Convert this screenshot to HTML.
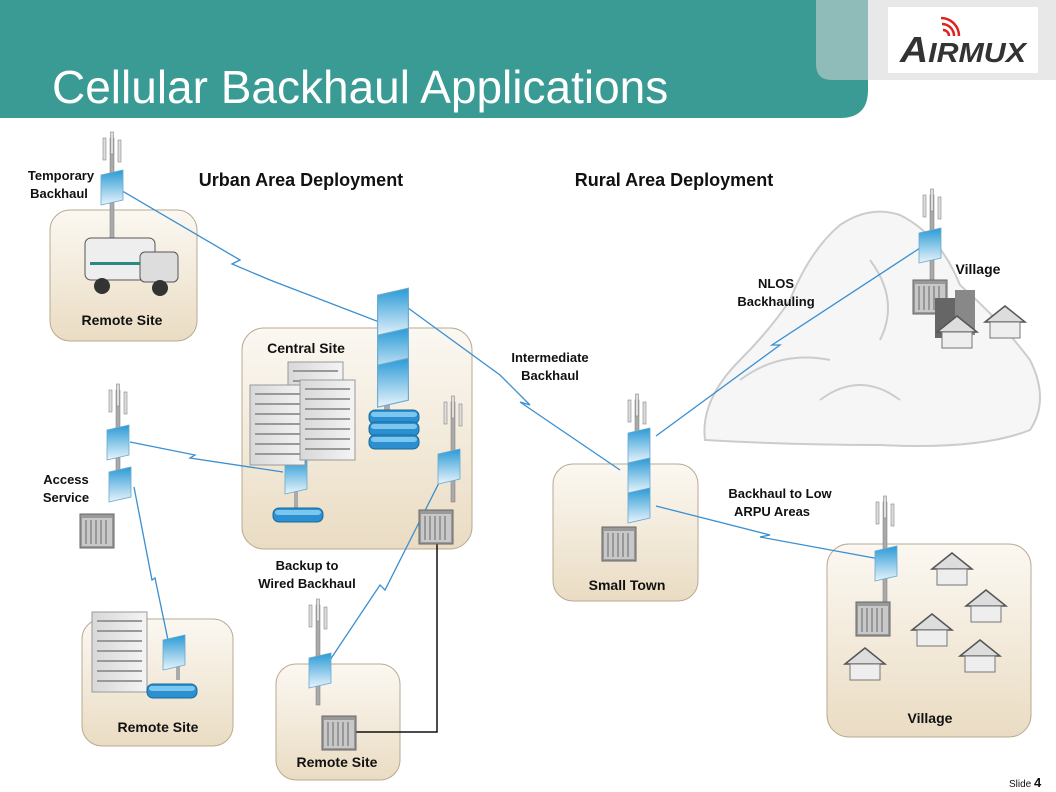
<!DOCTYPE html>
<html><head><meta charset="utf-8"><style>
body{margin:0;background:#fff}
svg{display:block}
text{font-family:"Liberation Sans",Arial,sans-serif;font-weight:bold;fill:#111}
</style></head><body>
<svg width="1056" height="792" viewBox="0 0 1056 792" xmlns="http://www.w3.org/2000/svg">
<defs>
<linearGradient id="box" x1="0" y1="0" x2="0" y2="1"><stop offset="0" stop-color="#fbf8f2"/><stop offset="1" stop-color="#eadcc3"/></linearGradient>
<linearGradient id="pan" x1="0" y1="0" x2="0" y2="1"><stop offset="0" stop-color="#2a9ad6"/><stop offset="1" stop-color="#e8f4fb"/></linearGradient>
<linearGradient id="bld" x1="0" y1="0" x2="1" y2="0"><stop offset="0" stop-color="#d8d8d8"/><stop offset="1" stop-color="#f4f4f4"/></linearGradient>
<g id="tower"><rect x="-2" y="0" width="4" height="100" fill="#aaa" stroke="#777" stroke-width="0.5"/>
<rect x="-9" y="0" width="3" height="22" fill="#ddd" stroke="#888" stroke-width="0.6"/><rect x="-1.5" y="-6" width="3" height="22" fill="#ddd" stroke="#888" stroke-width="0.6"/><rect x="6" y="2" width="3" height="22" fill="#ddd" stroke="#888" stroke-width="0.6"/></g>
<g id="panel"><polygon points="-11,-12 11,-17 11,13 -11,18" fill="url(#pan)" stroke="#6aa8cc" stroke-width="0.8"/></g>
<g id="cab"><rect x="0" y="0" width="34" height="34" fill="#999" stroke="#666"/><rect x="2" y="4" width="30" height="28" fill="#c8c8c8"/><g stroke="#888" stroke-width="1.5"><line x1="6" y1="6" x2="6" y2="30"/><line x1="11" y1="6" x2="11" y2="30"/><line x1="16" y1="6" x2="16" y2="30"/><line x1="21" y1="6" x2="21" y2="30"/><line x1="26" y1="6" x2="26" y2="30"/></g></g>
<g id="house"><polygon points="0,16 20,0 40,16" fill="#ddd" stroke="#555" stroke-width="1.5"/><rect x="5" y="16" width="30" height="16" fill="#eee" stroke="#777"/></g>
<g id="bigb"><rect x="0" y="0" width="55" height="80" fill="url(#bld)" stroke="#999"/><g fill="#999"><rect x="5" y="8" width="45" height="2"/><rect x="5" y="18" width="45" height="2"/><rect x="5" y="28" width="45" height="2"/><rect x="5" y="38" width="45" height="2"/><rect x="5" y="48" width="45" height="2"/><rect x="5" y="58" width="45" height="2"/><rect x="5" y="68" width="45" height="2"/></g></g>
<g id="modem"><rect x="-25" y="0" width="50" height="14" rx="6" fill="#2b8fd0" stroke="#1a6a9a"/><rect x="-23" y="2" width="46" height="5" rx="3" fill="#7cc7ef"/></g>
</defs>

<!-- header -->
<rect x="0" y="0" width="1056" height="80" fill="#e8e8e8"/>
<path d="M0 0H868V90Q868 118 840 118H0Z" fill="#3a9a94"/>
<path d="M816 0H868V80H832Q816 80 816 64Z" fill="#8fbcb9"/>
<rect x="888" y="7" width="150" height="66" fill="#fff"/>
<text x="900" y="62" font-size="36" font-style="italic" style="fill:#333;font-weight:bold" textLength="126" lengthAdjust="spacingAndGlyphs">A<tspan font-size="28">IRMUX</tspan></text>
<path d="M943 30a6 6 0 0 1 6 6M942 24a12 12 0 0 1 12 12M941 18a18 18 0 0 1 18 18" stroke="#d22" stroke-width="2.5" fill="none"/>
<text x="52" y="103" font-size="46" style="font-weight:normal;fill:#fff">Cellular Backhaul Applications</text>

<!-- hills (rural) -->
<path d="M705 440Q700 400 740 360Q770 330 790 300Q810 250 840 225Q870 205 900 215Q940 235 960 285Q1000 320 1030 360Q1050 400 1030 430Q980 450 880 445Q790 445 705 440Z" fill="#f6f6f6" stroke="#ccc" stroke-width="2"/>
<path d="M740 380Q780 350 830 360M870 260Q900 300 880 340M820 400Q860 370 900 400" stroke="#ccc" stroke-width="2" fill="none"/>

<!-- boxes -->
<g fill="url(#box)" stroke="#b8aa90" stroke-width="1">
<rect x="50" y="210" width="147" height="131" rx="20"/>
<rect x="242" y="328" width="230" height="221" rx="22"/>
<rect x="82" y="619" width="151" height="127" rx="20"/>
<rect x="276" y="664" width="124" height="116" rx="20"/>
<rect x="553" y="464" width="145" height="137" rx="20"/>
<rect x="827" y="544" width="204" height="193" rx="22"/>
</g>

<!-- links -->
<g stroke="#3a8fd0" stroke-width="1.3" fill="none">
<path d="M112 185L240 260L232 264L270 280L400 330"/>
<path d="M408 308L500 375L530 405L520 402L620 470"/>
<path d="M130 442L195 455L190 458L283 472"/>
<path d="M134 487L152 580L155 578L168 640"/>
<path d="M448 465L385 590L380 585L330 660"/>
<path d="M656 436L780 345L772 345L920 248"/>
<path d="M656 506L770 535L760 537L885 560"/>
</g>
<polyline points="432,540 437,540 437,732 352,732" fill="none" stroke="#111" stroke-width="1.5"/>

<!-- towers & panels -->
<use href="#tower" x="112" y="138"/><use href="#panel" x="112" y="187"/>
<use href="#tower" x="118" y="390"/><use href="#panel" x="118" y="442"/><use href="#panel" x="120" y="484"/><use href="#cab" x="80" y="514"/>
<use href="#tower" x="453" y="402"/><use href="#panel" x="449" y="466"/><use href="#cab" x="419" y="510"/>
<use href="#tower" x="318" y="605"/><use href="#panel" x="320" y="670"/><use href="#cab" x="322" y="716"/>
<use href="#tower" x="637" y="400"/><use href="#panel" x="639" y="445"/><use href="#panel" x="639" y="475"/><use href="#panel" x="639" y="505"/><use href="#cab" x="602" y="527"/>
<use href="#tower" x="932" y="195"/><use href="#panel" x="930" y="245"/><use href="#cab" x="913" y="280"/>
<use href="#tower" x="885" y="502"/><use href="#panel" x="886" y="563"/><use href="#cab" x="856" y="602"/>

<!-- central stack -->
<rect x="384" y="320" width="6" height="90" fill="#aaa"/>
<use href="#panel" x="393" y="312" transform="translate(393 312) scale(1.4) translate(-393 -312)"/>
<use href="#panel" x="393" y="352" transform="translate(393 352) scale(1.4) translate(-393 -352)"/>
<use href="#panel" x="393" y="382" transform="translate(393 382) scale(1.4) translate(-393 -382)"/>
<use href="#modem" x="394" y="410"/><use href="#modem" x="394" y="422"/><use href="#modem" x="394" y="435"/>
<rect x="294" y="488" width="4" height="20" fill="#aaa"/><use href="#panel" x="296" y="476"/><use href="#modem" x="298" y="508"/>
<use href="#bigb" x="288" y="362"/><use href="#bigb" x="250" y="385"/><use href="#bigb" x="300" y="380"/>
<use href="#bigb" x="92" y="612"/><rect x="176" y="654" width="4" height="26" fill="#aaa"/><use href="#panel" x="174" y="652"/><use href="#modem" x="172" y="684"/>

<!-- van -->
<rect x="85" y="238" width="70" height="42" rx="6" fill="#eee" stroke="#555"/><rect x="140" y="252" width="38" height="30" rx="5" fill="#ddd" stroke="#555"/><rect x="90" y="262" width="50" height="3" fill="#2a8a80"/><circle cx="102" cy="286" r="8" fill="#333"/><circle cx="160" cy="288" r="8" fill="#333"/>

<!-- village buildings -->
<rect x="935" y="298" width="35" height="40" fill="#666"/><rect x="955" y="290" width="20" height="45" fill="#888"/><use href="#house" x="937" y="316"/><use href="#house" x="985" y="306"/>
<use href="#house" x="932" y="553"/><use href="#house" x="966" y="590"/><use href="#house" x="912" y="614"/><use href="#house" x="960" y="640"/><use href="#house" x="845" y="648"/>

<!-- labels -->
<g font-size="13" text-anchor="middle">
<text x="61" y="180">Temporary</text><text x="59" y="198">Backhaul</text>
<text x="66" y="484">Access</text><text x="66" y="502">Service</text>
<text x="307" y="570">Backup to</text><text x="307" y="588">Wired Backhaul</text>
<text x="550" y="362">Intermediate</text><text x="550" y="380">Backhaul</text>
<text x="776" y="288">NLOS</text><text x="776" y="306">Backhauling</text>
<text x="780" y="498">Backhaul to Low</text><text x="772" y="516">ARPU Areas</text>
</g>
<g font-size="14" text-anchor="middle">
<text x="122" y="325">Remote Site</text><text x="306" y="353">Central  Site</text>
<text x="158" y="732">Remote  Site</text><text x="337" y="767">Remote Site</text>
<text x="627" y="590">Small Town</text><text x="930" y="723">Village</text><text x="978" y="274">Village</text>
</g>
<text x="301" y="186" font-size="18" text-anchor="middle">Urban Area Deployment</text>
<text x="674" y="186" font-size="18" text-anchor="middle">Rural Area Deployment</text>
<text x="1009" y="787" font-size="10" style="font-weight:normal">Slide <tspan font-size="13" font-weight="bold">4</tspan></text>
</svg>
</body></html>
